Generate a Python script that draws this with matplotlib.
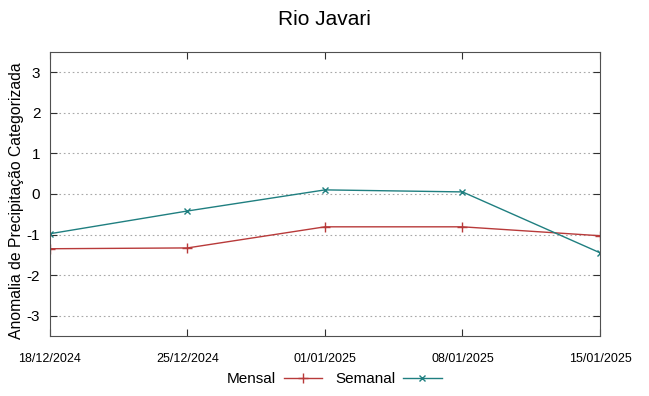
import matplotlib
matplotlib.use("Agg")
import matplotlib.pyplot as plt
import matplotlib.dates as mdates
import pandas as pd

plt.rcParams['font.family'] = ['Liberation Sans', 'DejaVu Sans']
plt.rcParams['axes.unicode_minus'] = False

datas = pd.to_datetime(["2024-12-18", "2024-12-25", "2025-01-01", "2025-01-08", "2025-01-15"])
mensal = [-1.35, -1.33, -0.81, -0.81, -1.03]
semanal = [-0.98, -0.42, 0.10, 0.05, -1.45]
yticks = [-3, -2, -1, 0, 1, 2, 3]

fig = plt.figure(figsize=(6.49, 3.96), dpi=100)
ax = fig.add_axes([0.077, 0.1515, 0.8475, 0.7175])

ax.plot(datas, mensal, color='#b83a3a', marker='+', markersize=7, markeredgewidth=1.0,
        linewidth=1.0, label="Mensal")
ax.plot(datas, semanal, color='#1f7f80', marker='x', markersize=5, markeredgewidth=1.0,
        linewidth=1.0, label="Semanal")

ax.set_xlim(datas[0], datas[-1])
ax.set_ylim(-3.5, 3.5)
ax.set_yticks(yticks)
ax.set_xticks(datas)
ax.xaxis.set_major_formatter(mdates.DateFormatter("%d/%m/%Y"))
ax.yaxis.grid(True, linestyle=(0, (1.5, 2.5)), color='#a8a8a8', linewidth=0.8)
ax.tick_params(axis='both', direction='in', top=True, right=True, length=5, color='#303030')
ax.tick_params(axis='y', labelsize=11, pad=7)
ax.tick_params(axis='x', labelsize=9, pad=12)
for s in ax.spines.values():
    s.set_color('#505050')

ax.set_ylabel("Anomalia de Precipitação Categorizada", fontsize=11.3)
ax.yaxis.set_label_coords(-0.047, 0.475)
fig.suptitle("Rio Javari", fontsize=15, y=0.975)

fig.legend(loc='lower center', ncol=2, frameon=False, markerfirst=False, fontsize=11,
           bbox_to_anchor=(0.515, -0.01), handlelength=2.5, columnspacing=0.9, handletextpad=0.5)

fig.savefig("out.png", dpi=100)
